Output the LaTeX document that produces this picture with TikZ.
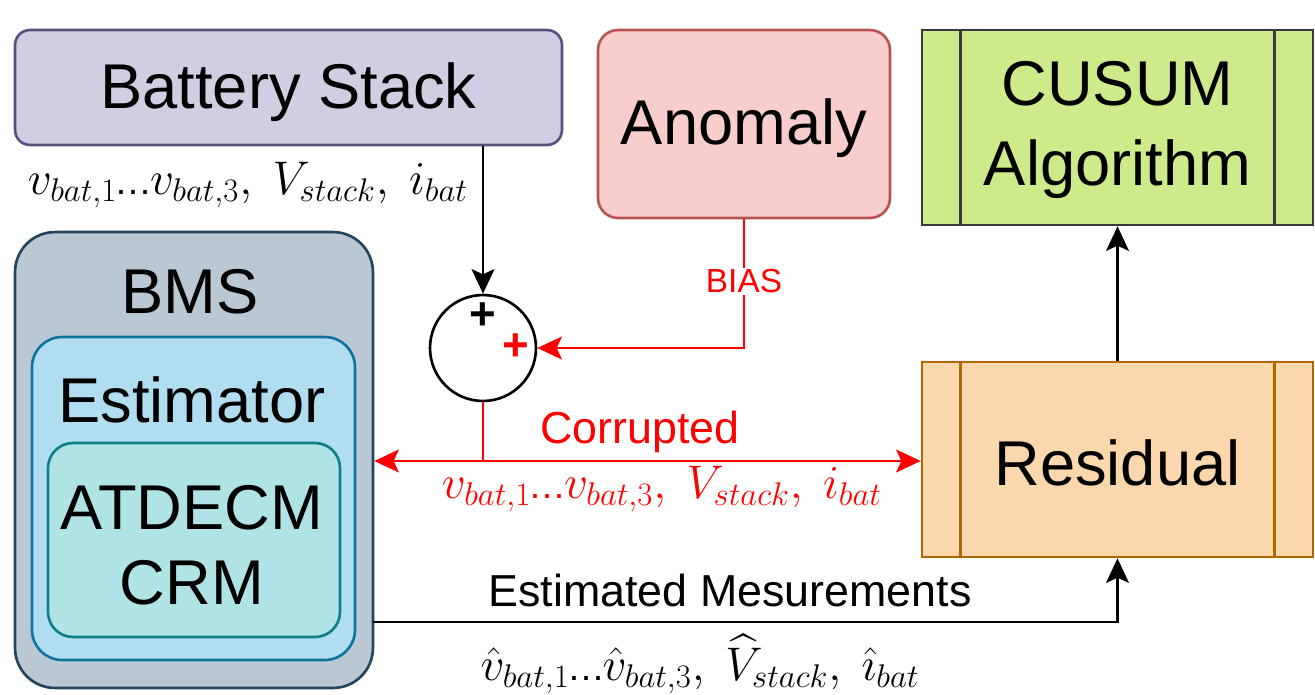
\documentclass[tikz,border=0pt]{standalone}
\usepackage{fontspec}
\setmainfont{Liberation Sans}
\usepackage{amsmath}
\usepackage{tikz}
\usetikzlibrary{positioning, arrows.meta, shapes, calc}

\definecolor{batfill}{HTML}{D0CEE2}
\definecolor{batline}{HTML}{56517E}
\definecolor{anofill}{HTML}{F8CECC}
\definecolor{anoline}{HTML}{B85450}
\definecolor{cusfill}{HTML}{CDEB8B}
\definecolor{cusline}{HTML}{36393D}
\definecolor{resfill}{HTML}{FAD7AC}
\definecolor{resline}{HTML}{B46504}
\definecolor{bmsfill}{HTML}{BAC8D3}
\definecolor{bmsline}{HTML}{23445D}
\definecolor{estfill}{HTML}{B1DDF0}
\definecolor{estline}{HTML}{10739E}
\definecolor{crmfill}{HTML}{B0E3E6}
\definecolor{crmline}{HTML}{0E8088}
\definecolor{sigred}{HTML}{FF0000}

\newcommand{\dotsig}{\mkern-1mu\text{\fontsize{20}{20}\selectfont …}\mkern-1mu}
\newcommand{\sigtext}[1]{\scalebox{1.08}{$#1$}}

\begin{document}
\begin{tikzpicture}[
        x=0.02cm, y=-0.02cm,
        >={Stealth[length=14pt, width=13pt, inset=3pt]},
        big/.style={font=\fontsize{36}{44}\selectfont, align=center},
        mid/.style={font=\fontsize{25.5}{30}\selectfont},
        small/.style={font=\fontsize{19}{22}\selectfont},
        sig/.style={font=\fontsize{24}{28}\selectfont},
        block/.style={rectangle, draw, line width=1.5pt, inner sep=0pt},
        procbox/.style={block, minimum width=7.82cm, minimum height=3.9cm},
        arr/.style={line width=1.4pt, ->},
        redarr/.style={arr, draw=sigred}
    ]
    \useasboundingbox (0,0) rectangle (1315,694);

    % top row
    \node[block, rounded corners=0.3cm, fill=batfill, draw=batline, minimum width=10.94cm, minimum height=2.3cm] (bat) at (288.5,87.5) {};
    \node[big] at (288.5,92) {Battery Stack};
    \node[block, rounded corners=0.4cm, fill=anofill, draw=anoline, minimum width=5.84cm, minimum height=3.76cm] (anom) at (744,124) {};
    \node[big] at (744,128) {Anomaly};
    \node[procbox, fill=cusfill, draw=cusline] (cusum) at (1117.5,127.5) {};
    \node[big, font=\fontsize{36}{45}\selectfont] at (1117.5,130) {CUSUM\\Algorithm};

    % BMS with nested blocks
    \node[block, rounded corners=0.8cm, fill=bmsfill, draw=bmsline, minimum width=7.16cm, minimum height=9.12cm] (bms) at (194,460) {};
    \node[big] at (190,292) {BMS};
    \node[block, rounded corners=0.6cm, fill=estfill, draw=estline, minimum width=6.46cm, minimum height=6.46cm] (est) at (193.5,498.5) {};
    \node[big] at (192,400) {Estimator};
    \node[block, rounded corners=0.5cm, fill=crmfill, draw=crmline, minimum width=5.84cm, minimum height=3.88cm] (crm) at (194,540) {};
    \node[big, font=\fontsize{36}{43}\selectfont] at (192,545) {ATDECM\\CRM};

    % residual and summing junction
    \node[procbox, fill=resfill, draw=resline] (res) at (1117.5,459.5) {};
    \node[big] at (1117.5,463) {Residual};
    \foreach \blk/\col in {cusum/cusline, res/resline} {
        \draw[\col, line width=1.5pt] ([xshift=0.8cm]\blk.north west) -- ([xshift=0.8cm]\blk.south west);
        \draw[\col, line width=1.5pt] ([xshift=-0.8cm]\blk.north east) -- ([xshift=-0.8cm]\blk.south east);
    }
    \node[circle, draw, line width=1.5pt, fill=white, minimum size=2.12cm, inner sep=0pt] (sum) at (483,348) {};
    \node[font=\fontsize{26}{26}\bfseries] at (483,316) {+};
    \node[font=\fontsize{26}{26}\bfseries, text=sigred] at (516,347) {+};

    % connectors
    \coordinate (tap) at (483,461);
    \coordinate (estout) at (373,622);
    \draw[arr] (bat.south -| sum.north) -- (sum.north);
    \draw[redarr] (anom.south) |- (sum.east) node[pos=0.24, small, text=sigred, fill=white, inner sep=1pt] {BIAS};
    \draw[sigred, line width=1.4pt] (sum.south) -- (tap);
    \draw[redarr, <->] (bms.east |- tap) -- (res.west |- tap);
    \draw[arr] (estout) -| (res.south);
    \draw[arr] (res.north) -- (cusum.south);

    % signal labels
    \node[sig] at (248,185) {\sigtext{v_{bat,1}\dotsig v_{bat,3},\ V_{stack},\ i_{bat}}};
    \node[mid, text=sigred] at (640,432) {Corrupted};
    \node[sig, text=sigred] at (662,489) {\sigtext{v_{bat,1}\dotsig v_{bat,3},\ V_{stack},\ i_{bat}}};
    \node[mid] at (730,590) {Estimated Mesurements};
    \node[sig] at (700,664) {\sigtext{\hat{v}_{bat,1}\dotsig \hat{v}_{bat,3},\ \widehat{V}_{stack},\ \hat{\imath}_{bat}}};
\end{tikzpicture}
\end{document}
